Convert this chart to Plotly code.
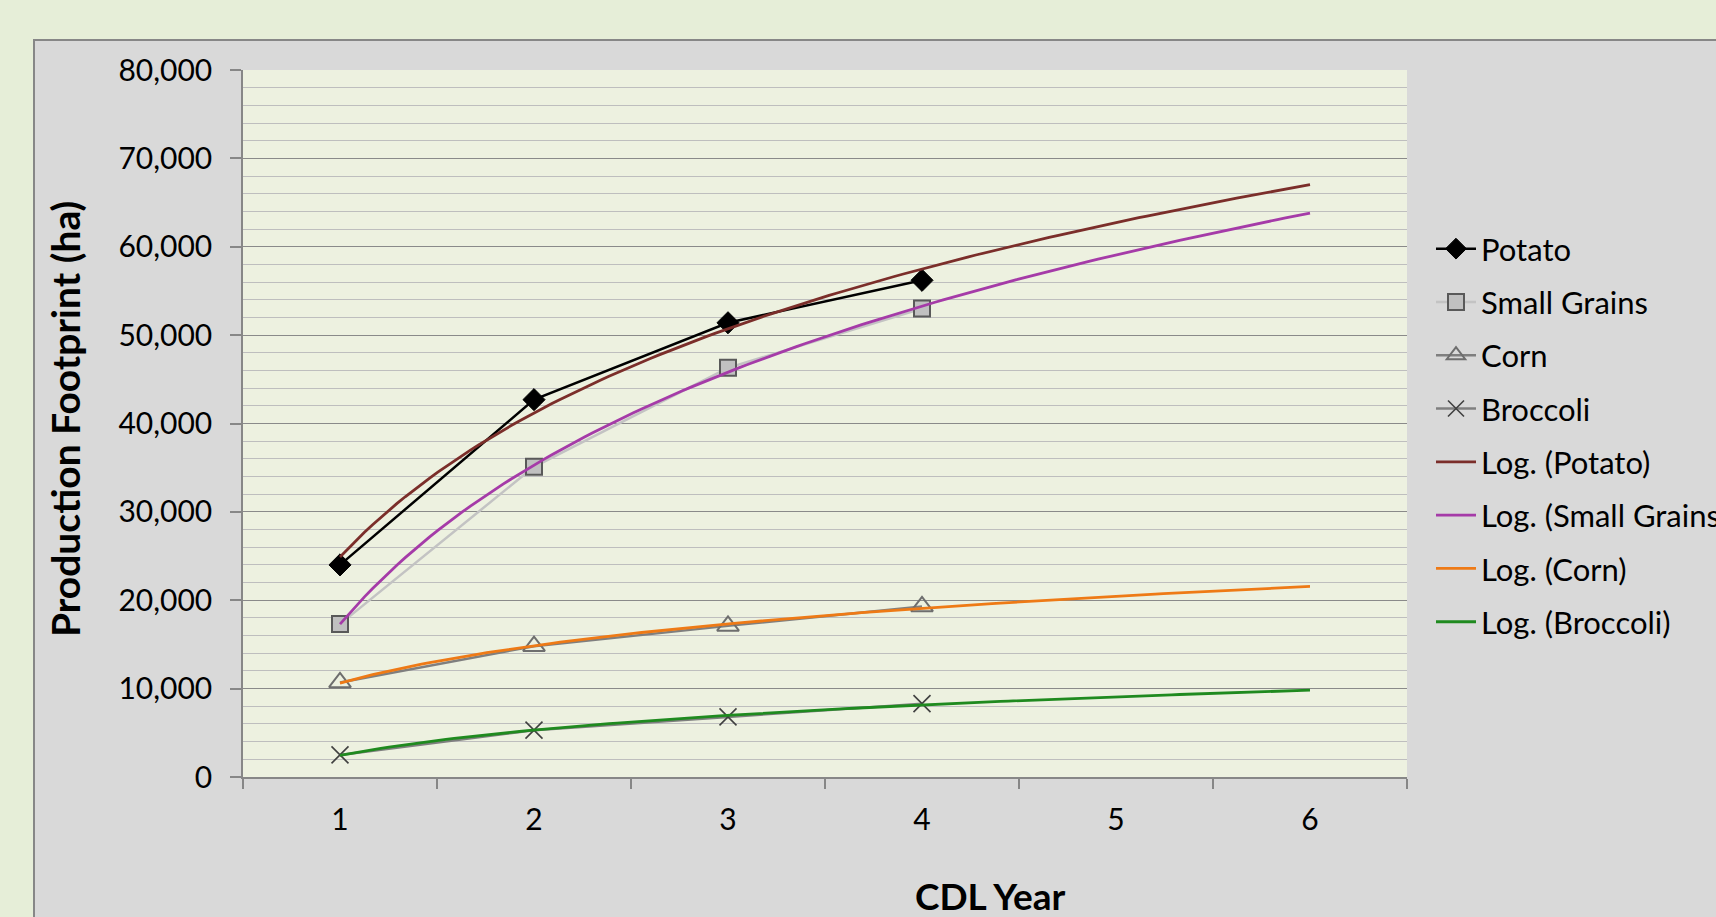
import numpy as np
import plotly.graph_objects as go

years = [1, 2, 3, 4]
trend_end = 6
x_tick_vals = [1, 2, 3, 4, 5, 6]
x_tick_text = ["1", "2", "3", "4", "5", "6"]
y_tick_vals = [0, 10000, 20000, 30000, 40000, 50000, 60000, 70000, 80000]

potato = [24000, 42700, 51400, 56200]
small_grains = [17300, 35100, 46300, 53000]
corn = [10700, 14800, 17100, 19300]
broccoli = [2500, 5300, 6800, 8300]

FONT = "Lato"
W, H = 1716, 917
L, R, T, B = 243, 1716 - 1407, 70, 917 - 777
pw, ph = W - L - R, H - T - B


def px_x(p):
    return (p - L) / pw


def px_y(p):
    return (H - B - p) / ph


fig = go.Figure()

series = [
    ("Potato", potato, dict(color="#000000", width=2.5),
     dict(symbol="diamond", size=17, color="#000000", line=dict(color="#000000", width=1))),
    ("Small Grains", small_grains, dict(color="#C3C3C3", width=2.5),
     dict(symbol="square", size=16, color="#C0C0C0", line=dict(color="#595959", width=2))),
    ("Corn", corn, dict(color="#7F7F7F", width=2.5),
     dict(symbol="triangle-up-open", size=19, color="#6E6E6E", line=dict(color="#6E6E6E", width=2))),
    ("Broccoli", broccoli, dict(color="#7F7F7F", width=2.5),
     dict(symbol="x-thin-open", size=17, color="#404040", line=dict(color="#404040", width=1.6))),
]
trend_colors = ["#7B2E2A", "#A53BA8", "#EE7A16", "#1F8A1F"]

for i, (name, vals, line, marker) in enumerate(series):
    fig.add_trace(go.Scatter(x=years, y=vals, name=name, mode="lines+markers",
                             line=line, marker=marker, legendgroup=name,
                             legendrank=i + 1))

xs = np.linspace(1, trend_end, 120)
for i, (name, vals, _, _) in enumerate(series):
    b, a = np.polyfit(np.log(years), vals, 1)
    fig.add_trace(go.Scatter(x=xs, y=a + b * np.log(xs), name=f"Log. ({name})",
                             mode="lines", line=dict(color=trend_colors[i], width=2.8),
                             legendgroup=f"log{name}", legendrank=10 + i,
                             hoverinfo="skip"))

# chart area (gray panel) and plot area fill
fig.add_shape(type="rect", xref="paper", yref="paper",
              x0=px_x(34), x1=1.4, y0=-0.4, y1=px_y(40),
              fillcolor="#D9D9D9", line=dict(color="#878787", width=2), layer="below")
fig.add_shape(type="rect", xref="paper", yref="paper",
              x0=0, x1=1, y0=0, y1=1,
              fillcolor="#EDF1E0", line=dict(width=0), layer="below")

fig.update_layout(
    width=W, height=H,
    margin=dict(l=L, r=R, t=T, b=B, pad=0, autoexpand=False),
    paper_bgcolor="#E6EED8",
    plot_bgcolor="#EDF1E0",
    font=dict(family=FONT, size=30, color="#000000"),
    showlegend=True,
    legend=dict(x=px_x(1431), xanchor="left", y=px_y(222), yanchor="top",
                bgcolor="rgba(0,0,0,0)", font=dict(family=FONT, size=31),
                tracegroupgap=10, traceorder="grouped", itemwidth=40),
    xaxis=dict(range=[0.5, 6.5], tickvals=x_tick_vals, ticktext=x_tick_text,
               showgrid=False, zeroline=False, showline=True, linecolor="#878787",
               linewidth=1.5, ticks="", ticklabelstandoff=15,
               tickfont=dict(family=FONT, size=30, color="#000000"),
               minor=dict(tickvals=[0.5, 1.5, 2.5, 3.5, 4.5, 5.5, 6.5], ticks="outside",
                          ticklen=10, tickcolor="#878787", tickwidth=1.5, showgrid=False),
               fixedrange=True),
    yaxis=dict(range=[0, 80000], tickvals=y_tick_vals, tickformat=",",
               showgrid=True, gridcolor="#8A8A8A", gridwidth=1.3,
               zeroline=False, showline=True, linecolor="#878787", linewidth=1.5,
               ticks="outside", ticklen=11, tickcolor="#878787", tickwidth=1.5,
               ticklabelstandoff=12,
               tickfont=dict(family=FONT, size=30, color="#000000"),
               minor=dict(dtick=2000, showgrid=True, gridcolor="#BEBEBE", gridwidth=1.3,
                          ticks=""),
               fixedrange=True),
)

fig.add_annotation(text="<b>CDL Year</b>", xref="paper", yref="paper",
                   x=px_x(990), y=px_y(895), xanchor="center", yanchor="middle",
                   showarrow=False, font=dict(family=FONT, size=37, color="#000000"))
fig.add_annotation(text="<b>Production Footprint (ha)</b>", xref="paper", yref="paper",
                   x=px_x(65), y=px_y(419), xanchor="center", yanchor="middle",
                   textangle=-90, showarrow=False,
                   font=dict(family=FONT, size=39, color="#000000"))

fig.write_html("out.html", config={"displayModeBar": False},
               post_script="document.body.style.margin='0';document.body.style.overflow='hidden';")
